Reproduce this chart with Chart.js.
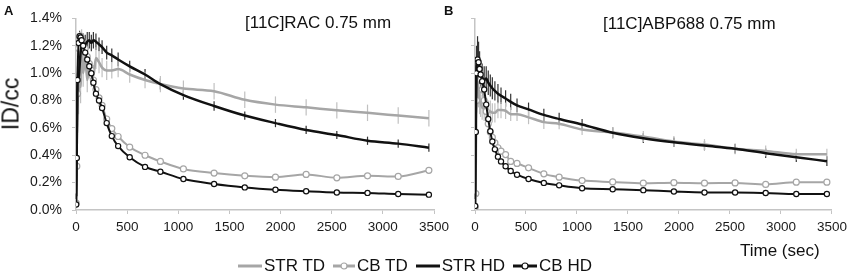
<!DOCTYPE html>
<html>
<head>
<meta charset="utf-8">
<script src="https://cdn.jsdelivr.net/npm/chart.js@4.4.1/dist/chart.umd.min.js"></script>
<style>
body { margin: 0; background: #fff; font-family: "Liberation Sans", Arial, sans-serif; }
#wrap { position: relative; width: 852px; height: 276px; overflow: hidden; }
canvas { position: absolute; left: 0; top: 0; width: 852px; height: 276px; }
.t { position: absolute; white-space: nowrap; color: #111; line-height: 1; }
.leg { position: absolute; left: 238px; top: 256px; display: flex; align-items: center; font-size: 17px; color: #111; }
.leg span { display: inline-flex; align-items: center; margin-right: 8px; }
.leg svg { margin-right: 2px; }
</style>
</head>
<body>
<div id="wrap">
  <canvas id="chartA" width="852" height="276"></canvas>
  <canvas id="chartB" width="852" height="276"></canvas>
  <div class="t" style="left:4px;top:4px;font-weight:bold;font-size:13px">A</div>
  <div class="t" style="left:444px;top:4px;font-weight:bold;font-size:13px">B</div>
  <div class="t" style="left:245px;top:14px;font-size:17px">[11C]RAC 0.75 mm</div>
  <div class="t" style="left:603px;top:15px;font-size:17px">[11C]ABP688 0.75 mm</div>
  <div class="t" style="left:11px;top:104px;font-size:23px;transform:translate(-50%,-50%) rotate(-90deg)">ID/cc</div>
  <div class="t" style="left:740px;top:242px;font-size:17px">Time (sec)</div>
  <div class="leg">
    <span><svg width="24" height="10"><line x1="0" y1="5" x2="24" y2="5" stroke="#a6a6a6" stroke-width="3"/></svg>STR TD</span>
    <span><svg width="22" height="10"><line x1="0" y1="5" x2="22" y2="5" stroke="#a6a6a6" stroke-width="3"/><circle cx="11" cy="5" r="3" fill="#fff" stroke="#a6a6a6" stroke-width="1.2"/></svg>CB TD</span>
    <span><svg width="24" height="10"><line x1="0" y1="5" x2="24" y2="5" stroke="#111" stroke-width="3"/></svg>STR HD</span>
    <span><svg width="24" height="10"><line x1="0" y1="5" x2="24" y2="5" stroke="#111" stroke-width="3"/><circle cx="12" cy="5" r="3" fill="#fff" stroke="#111" stroke-width="1.2"/></svg>CB HD</span>
  </div>
</div>
<script>
// frame mid-times (sec)
const times = [2, 8, 15, 25, 35, 45, 55, 70, 90, 110, 130, 150, 170, 195, 225, 255, 300, 350, 412, 525, 675, 825, 1050, 1350, 1650, 1950, 2250, 2550, 2850, 3150, 3450];

// panel A: [11C]RAC  (%ID/cc)
const strTdA = [0.05, 0.60, 1.00, 0.85, 1.15, 0.90, 1.20, 1.00, 1.12, 0.95, 1.05, 0.98, 0.98, 1.11, 1.08, 1.04, 1.02, 1.02, 1.03, 0.99, 0.95, 0.92, 0.887, 0.868, 0.805, 0.77, 0.75, 0.728, 0.71, 0.69, 0.67];
const cbTdA = [0.05, 0.32, 0.85, 1.18, 1.26, 1.27, 1.25, 1.22, 1.18, 1.12, 1.07, 1.02, 0.95, 0.88, 0.82, 0.765, 0.665, 0.595, 0.537, 0.46, 0.40, 0.355, 0.30, 0.27, 0.25, 0.24, 0.26, 0.235, 0.25, 0.245, 0.29];
const strHdA = [0.10, 0.50, 0.95, 0.95, 1.05, 1.15, 1.20, 1.22, 1.21, 1.23, 1.24, 1.22, 1.24, 1.23, 1.21, 1.19, 1.15, 1.13, 1.10, 1.05, 0.99, 0.92, 0.84, 0.76, 0.69, 0.635, 0.585, 0.548, 0.506, 0.485, 0.455];
const cbHdA = [0.04, 0.38, 0.95, 1.22, 1.27, 1.26, 1.24, 1.20, 1.15, 1.10, 1.05, 1.00, 0.93, 0.85, 0.80, 0.745, 0.635, 0.54, 0.467, 0.385, 0.315, 0.28, 0.226, 0.19, 0.165, 0.148, 0.137, 0.128, 0.125, 0.117, 0.112];
const strTdErrA = [0.02, 0.12, 0.15, 0.15, 0.15, 0.12, 0.12, 0.10, 0.10, 0.09, 0.09, 0.08, 0.08, 0.08, 0.08, 0.07, 0.07, 0.06, 0.06, 0.06, 0.06, 0.06, 0.06, 0.06, 0.06, 0.06, 0.06, 0.06, 0.06, 0.06, 0.06];
const strHdErrA = [0.02, 0.08, 0.10, 0.10, 0.10, 0.08, 0.07, 0.07, 0.07, 0.07, 0.06, 0.06, 0.06, 0.06, 0.05, 0.05, 0.05, 0.05, 0.05, 0.04, 0.04, 0.04, 0.035, 0.035, 0.03, 0.03, 0.03, 0.03, 0.03, 0.03, 0.03];
const cbErrA = [0.01, 0.03, 0.04, 0.04, 0.04, 0.03, 0.03, 0.03, 0.03, 0.03, 0.03, 0.02, 0.02, 0.02, 0.02, 0.02, 0.02, 0.02, 0.02, 0.02, 0.015, 0.015, 0.015, 0.015, 0.015, 0.015, 0.015, 0.015, 0.015, 0.015, 0.015];

// panel B: [11C]ABP688
const strTdB = [0.05, 0.50, 0.90, 0.95, 0.85, 0.80, 0.78, 0.75, 0.74, 0.73, 0.72, 0.72, 0.71, 0.71, 0.73, 0.73, 0.725, 0.70, 0.70, 0.677, 0.642, 0.63, 0.588, 0.567, 0.537, 0.50, 0.478, 0.448, 0.432, 0.408, 0.408];
const cbTdB = [0.02, 0.12, 0.80, 1.03, 1.05, 1.00, 0.95, 0.88, 0.80, 0.72, 0.63, 0.57, 0.53, 0.49, 0.455, 0.43, 0.405, 0.355, 0.34, 0.308, 0.264, 0.24, 0.215, 0.205, 0.196, 0.20, 0.196, 0.198, 0.187, 0.203, 0.203];
const strHdB = [0.10, 0.70, 1.05, 1.10, 1.08, 1.04, 1.00, 0.97, 0.95, 0.96, 0.93, 0.91, 0.89, 0.87, 0.85, 0.835, 0.815, 0.79, 0.765, 0.735, 0.695, 0.665, 0.625, 0.565, 0.525, 0.495, 0.471, 0.448, 0.415, 0.385, 0.357];
const cbHdB = [0.03, 0.57, 1.00, 1.10, 1.08, 1.03, 0.99, 0.94, 0.88, 0.77, 0.665, 0.575, 0.50, 0.443, 0.39, 0.355, 0.32, 0.285, 0.258, 0.226, 0.198, 0.18, 0.159, 0.152, 0.145, 0.135, 0.128, 0.128, 0.124, 0.117, 0.117];
const strTdErrB = [0.02, 0.08, 0.10, 0.10, 0.10, 0.10, 0.10, 0.09, 0.09, 0.08, 0.08, 0.08, 0.07, 0.07, 0.06, 0.06, 0.06, 0.05, 0.05, 0.05, 0.05, 0.04, 0.04, 0.04, 0.04, 0.04, 0.04, 0.04, 0.04, 0.04, 0.04];
const strHdErrB = [0.02, 0.10, 0.15, 0.17, 0.15, 0.12, 0.10, 0.10, 0.10, 0.09, 0.09, 0.08, 0.08, 0.07, 0.07, 0.06, 0.06, 0.06, 0.05, 0.05, 0.045, 0.045, 0.04, 0.04, 0.035, 0.035, 0.035, 0.035, 0.035, 0.035, 0.035];
const cbErrB = [0.01, 0.03, 0.04, 0.04, 0.03, 0.03, 0.03, 0.03, 0.03, 0.02, 0.02, 0.02, 0.02, 0.02, 0.02, 0.02, 0.015, 0.015, 0.015, 0.015, 0.015, 0.015, 0.015, 0.015, 0.015, 0.015, 0.015, 0.015, 0.015, 0.015, 0.015];

const GRAY = '#a6a6a6';
const BLACK = '#111';
const AXIS = '#c4c4c4';

function pts(vals) {
  return times.map((t, i) => ({ x: t, y: vals[i] }));
}

// vertical error bars, drawn under the lines
const errorBars = {
  id: 'errorBars',
  beforeDatasetsDraw(chart) {
    const ctx = chart.ctx;
    const xs = chart.scales.x, ys = chart.scales.y;
    ctx.save();
    chart.data.datasets.forEach(ds => {
      if (!ds.err) return;
      ctx.strokeStyle = ds.errColor;
      ctx.lineWidth = 1.2;
      ds.data.forEach((p, i) => {
        const x = xs.getPixelForValue(p.x);
        ctx.beginPath();
        ctx.moveTo(x, ys.getPixelForValue(p.y + ds.err[i]));
        ctx.lineTo(x, ys.getPixelForValue(Math.max(0, p.y - ds.err[i])));
        ctx.stroke();
      });
    });
    ctx.restore();
  }
};

function makePanel(id, series, showLabels, pad, yWidth) {
  const [strTd, cbTd, strHd, cbHd, errTd, errHd, errCb] = series;
  return new Chart(document.getElementById(id), {
    type: 'line',
    data: {
      datasets: [
        { label: 'CB HD', data: pts(cbHd), borderColor: BLACK, borderWidth: 2, pointRadius: 2.6,
          pointBackgroundColor: '#fff', pointBorderColor: BLACK, pointBorderWidth: 1.2,
          err: errCb, errColor: '#555' },
        { label: 'STR HD', data: pts(strHd), borderColor: BLACK, borderWidth: 2.5, pointRadius: 0,
          err: errHd, errColor: '#333' },
        { label: 'CB TD', data: pts(cbTd), borderColor: GRAY, borderWidth: 2, pointRadius: 3,
          pointBackgroundColor: '#fff', pointBorderColor: GRAY, pointBorderWidth: 1.2,
          err: errCb, errColor: '#c8c8c8' },
        { label: 'STR TD', data: pts(strTd), borderColor: GRAY, borderWidth: 2.5, pointRadius: 0,
          err: errTd, errColor: '#c0c0c0' }
      ]
    },
    options: {
      responsive: false,
      animation: false,
      layout: { padding: pad },
      plugins: { legend: { display: false }, tooltip: { enabled: false } },
      elements: { line: { cubicInterpolationMode: 'monotone' } },
      scales: {
        x: {
          type: 'linear', min: 0, max: 3500,
          afterFit: s => { s.height = 25; },
          border: { color: AXIS, width: 1.5 },
          grid: { drawOnChartArea: false, tickLength: 4, color: AXIS },
          ticks: { stepSize: 500, padding: 5, color: '#1a1a1a',
                   font: { family: '"Liberation Sans", Arial', size: 13.5 },
                   callback: v => String(v) }
        },
        y: {
          min: 0, max: 1.4,
          afterFit: s => { s.width = yWidth; },
          border: { color: AXIS, width: 1.5 },
          grid: { drawOnChartArea: false, tickLength: 4, color: AXIS },
          ticks: { stepSize: 0.2, padding: 10, color: '#1a1a1a',
                   font: { family: '"Liberation Sans", Arial', size: 14 },
                   callback: v => showLabels ? v.toFixed(1) + '%' : '' }
        }
      }
    },
    plugins: [errorBars]
  });
}

makePanel('chartA', [strTdA, cbTdA, strHdA, cbHdA, strTdErrA, strHdErrA, cbErrA], true,
  { left: 0, top: 10, right: 418, bottom: 41 }, 76);
makePanel('chartB', [strTdB, cbTdB, strHdB, cbHdB, strTdErrB, strHdErrB, cbErrB], false,
  { left: 465, top: 10, right: 19, bottom: 41 }, 10);
</script>
</body>
</html>
